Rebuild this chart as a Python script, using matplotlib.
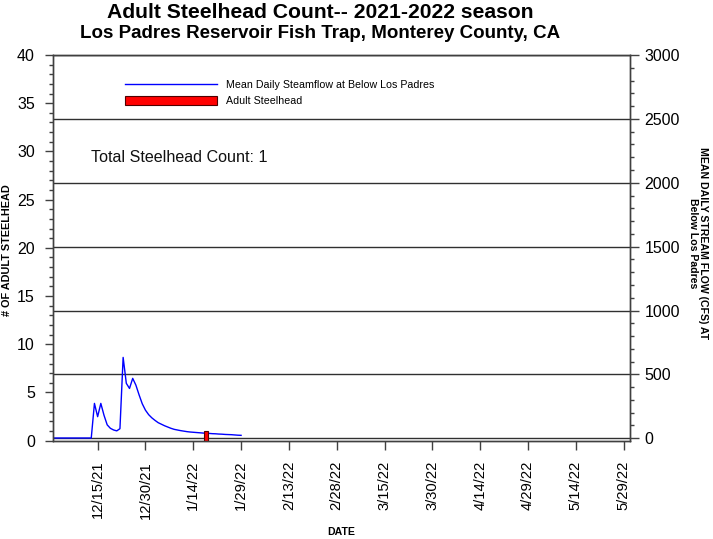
import matplotlib
matplotlib.use("Agg")
import numpy as np
import pandas as pd
import matplotlib.pyplot as plt
from matplotlib.ticker import MultipleLocator

plt.rcParams['font.family'] = ['Liberation Sans', 'DejaVu Sans']

# mean daily flow (cfs), one value per day starting 12/1/21
flow_start = "2021-12-01"
flow_cfs = [2, 2, 2, 2, 2, 2, 2, 2, 2, 2, 2, 2, 2,
            273, 169, 273, 180, 105, 78, 65, 58, 75, 633,
            430, 390, 469, 416, 340, 270, 220, 185, 160, 140,
            122, 110, 98, 88, 78, 70, 65, 60, 56, 52,
            49, 47, 45, 43, 41, 39, 38, 36, 35, 33,
            32, 30, 29, 28, 26, 24, 23]

# adult steelhead caught at the trap
fish_dates = ["2022-01-18"]
fish_counts = [1]

tick_dates = ["2021-12-15", "2021-12-30", "2022-01-14", "2022-01-29",
              "2022-02-13", "2022-02-28", "2022-03-15", "2022-03-30",
              "2022-04-14", "2022-04-29", "2022-05-14", "2022-05-29"]
tick_labels = ["12/15/21", "12/30/21", "1/14/22", "1/29/22", "2/13/22",
               "2/28/22", "3/15/22", "3/30/22", "4/14/22", "4/29/22",
               "5/14/22", "5/29/22"]

total_count = sum(fish_counts)

W, H = 713, 539
fig = plt.figure(figsize=(W / 100, H / 100), dpi=100)
ax = fig.add_axes([53 / W, 1 - 440.7 / H, 577 / W, 385.7 / H])
ax2 = ax.twinx()

spine_col = '#404040'

# streamflow on the right axis
flow_dates = pd.date_range(flow_start, periods=len(flow_cfs), freq="D")
line, = ax2.plot(flow_dates, flow_cfs, color='#0000ff', linewidth=1.0,
                 label='Mean Daily Steamflow at Below Los Padres')
ax2.set_ylim(-19, 3000)
ax2.yaxis.set_major_locator(MultipleLocator(500))
ax2.yaxis.set_minor_locator(MultipleLocator(100))
ax2.yaxis.grid(True, which='major', color='#303030', linewidth=1.0)
ax2.tick_params(axis='y', which='major', length=6.7, pad=3.6,
                labelsize=11.5, color=spine_col, width=1)
ax2.tick_params(axis='y', which='minor', length=3.2, color=spine_col, width=1)

# fish counts on the left axis, drawn over the flow line
bars = ax.bar(pd.to_datetime(fish_dates), fish_counts, width=1.0,
              color='#ff0000', edgecolor='#500000', linewidth=0.8,
              label='Adult Steelhead')
ax.set_zorder(ax2.get_zorder() + 1)
ax.patch.set_visible(False)
ax.set_ylim(0, 40)
ax.yaxis.set_major_locator(MultipleLocator(5))
ax.yaxis.set_minor_locator(MultipleLocator(1))
ax.tick_params(axis='y', which='major', length=6, pad=7,
               labelsize=11.5, color=spine_col, width=1)
ax.tick_params(axis='y', which='minor', length=3.2, color=spine_col, width=1)

ax.set_xlim(pd.Timestamp("2021-12-01"), pd.Timestamp("2022-05-31"))
ax.set_xticks(pd.to_datetime(tick_dates))
ax.set_xticklabels(tick_labels, rotation=90, fontsize=10.6)
ax.tick_params(axis='x', length=6.5, pad=8, color=spine_col, width=1)

for a in (ax, ax2):
    for s in a.spines.values():
        s.set_color(spine_col)
        s.set_linewidth(1.0)

ax.legend([line, bars], [line.get_label(), bars.get_label()],
          loc='upper left', bbox_to_anchor=(125 / W, 1 - 80 / H),
          bbox_transform=fig.transFigure, frameon=False, fontsize=7.7,
          handlelength=8.6, handleheight=1.0, handletextpad=0.8,
          borderpad=0, borderaxespad=0, labelspacing=0.5)

ax.text(91 / W, 1 - 157 / H, f"Total Steelhead Count: {total_count}",
        transform=fig.transFigure, fontsize=11.6, va='center', ha='left',
        color='#111111')

fig.text(320 / W, 1 - 12 / H, "Adult Steelhead Count-- 2021-2022 season",
         fontsize=15.2, fontweight='bold', ha='center', va='center')
fig.text(320 / W, 1 - 34 / H,
         "Los Padres Reservoir Fish Trap, Monterey County, CA",
         fontsize=13.5, fontweight='bold', ha='center', va='center')

narrow = ['Liberation Sans Narrow', 'Liberation Sans', 'DejaVu Sans']
fig.text(7 / W, 1 - 250 / H, "# OF ADULT STEELHEAD", rotation=90,
         fontsize=7.8, fontweight='bold', ha='center', va='center',
         family=narrow)
fig.text(698 / W, 1 - 243 / H,
         "MEAN DAILY STREAM FLOW (CFS) AT\nBelow Los Padres", rotation=270,
         fontsize=7.6, fontweight='bold', ha='center', va='center',
         multialignment='center', linespacing=1.0, family=narrow)
fig.text(341 / W, 1 - 532 / H, "DATE", fontsize=7.6, fontweight='bold',
         ha='center', va='center', family=narrow)

fig.savefig("out.png", dpi=100)
